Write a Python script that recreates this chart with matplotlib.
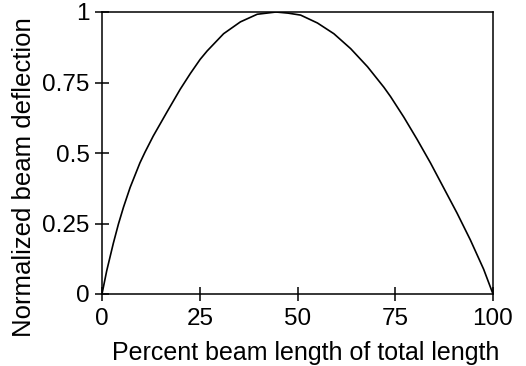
import matplotlib
matplotlib.use("Agg")
import matplotlib.pyplot as plt

# values
pct_length = [0, 1.2, 2.9, 4.2, 5.5, 7.2, 9.7, 11.0, 13.1, 16.6, 20.0, 22.6,
              25.1, 26.9, 31.1, 35.4, 39.7, 44.5, 47.6, 50.8, 55.1, 59.3, 63.6,
              67.9, 72.1, 73.8, 77.2, 80.6, 84.0, 87.4, 90.8, 94.2, 97.6, 100]
deflection = [0, 0.082, 0.18, 0.248, 0.308, 0.378, 0.465, 0.503, 0.56, 0.645,
              0.726, 0.782, 0.832, 0.862, 0.923, 0.965, 0.992, 1.0, 0.996, 0.989,
              0.961, 0.923, 0.870, 0.806, 0.733, 0.70, 0.627, 0.548, 0.465, 0.376,
              0.287, 0.192, 0.088, 0]
x_ticks = [0, 25, 50, 75, 100]
y_ticks = [0, 0.25, 0.5, 0.75, 1]
y_tick_labels = ["0", "0.25", "0.5", "0.75", "1"]

plt.rcParams['font.family'] = ['Liberation Sans', 'DejaVu Sans']

fig = plt.figure(figsize=(5.26, 3.66), dpi=100)
ax = fig.add_axes([102 / 526, 1 - 294 / 366, 391 / 526, 282 / 366])

ax.plot(pct_length, deflection, color='black', linewidth=1.2)

ax.set_xlim(0, 100)
ax.set_ylim(0, 1)
ax.set_xticks(x_ticks)
ax.set_yticks(y_ticks)
ax.set_yticklabels(y_tick_labels)

for side in ['left', 'right', 'top', 'bottom']:
    ax.spines[side].set_linewidth(1.1)

ax.tick_params(axis='both', direction='inout', length=9.5, width=1.1,
               labelsize=17.5, colors='black')
ax.tick_params(axis='x', pad=5)
ax.tick_params(axis='y', pad=4)

fig.text(305.5 / 526, 1 - 360 / 366, "Percent beam length of total length",
         fontsize=18, ha='center', va='baseline')
fig.text(24 / 526, 1 - 177 / 366, "Normalized beam deflection",
         fontsize=18.5, ha='center', va='center', rotation=90)

fig.savefig("out.png", dpi=100)
